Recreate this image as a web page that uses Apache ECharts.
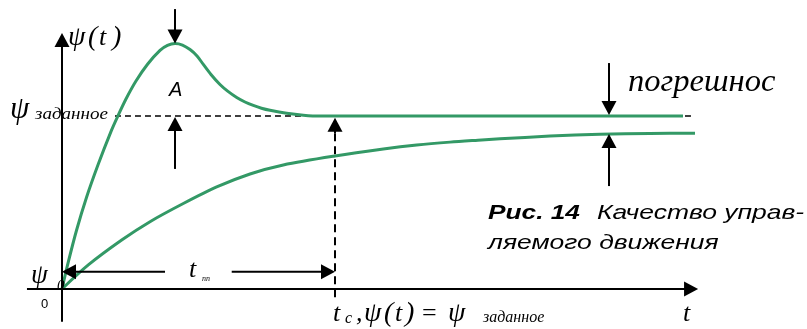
<!DOCTYPE html>
<html>
<head>
<meta charset="utf-8">
<script src="https://cdn.jsdelivr.net/npm/echarts@6/dist/echarts.min.js"></script>
<style>
  html, body { margin: 0; padding: 0; background: #ffffff; }
  #chart { width: 807px; height: 329px; }
</style>
</head>
<body>
<div id="chart"></div>
<script>
// Response ψ(t) of a controlled motion, normalised so that ψ_заданное = 1.
// Time t is in relative units; the settling time t_c = 3.

// Oscillatory response with overshoot A
const overshootT   = [0, 0.066, 0.159, 0.269, 0.396, 0.538, 0.615, 0.703, 0.813, 0.940, 1.077, 1.159, 1.242,
                      1.324, 1.407, 1.484, 1.553, 1.637, 1.736, 1.824, 1.920, 2.011, 2.102, 2.192, 2.286,
                      2.469, 2.652, 2.835, 3.011, 4.0, 5.0, 6.0, 6.824];
const overshootPsi = [0, 0.149, 0.338, 0.529, 0.718, 0.910, 1.001, 1.098, 1.202, 1.299, 1.379, 1.408, 1.419,
                      1.410, 1.384, 1.347, 1.298, 1.240, 1.182, 1.142, 1.107, 1.081, 1.061, 1.045, 1.033,
                      1.016, 1.005, 1.000, 1.0, 1.0, 1.0, 1.0, 1.0];

// Aperiodic response that stays below the target (static error)
const aperiodicT   = [0, 0.289, 0.656, 0.967, 1.333, 1.700, 2.066, 2.432, 3.0, 3.531, 3.898, 4.264,
                      4.571, 4.813, 5.363, 5.912, 6.462, 6.956];
const aperiodicPsi = [0, 0.139, 0.283, 0.389, 0.494, 0.590, 0.665, 0.717, 0.769, 0.809, 0.832, 0.849,
                      0.860, 0.868, 0.884, 0.894, 0.899, 0.901];

// Key levels
const targetPsi = 1.0;      // ψ_заданное
const settleT   = 3.0;      // t_c
const peakT     = 1.242;    // time of the overshoot peak
const peakPsi   = 1.419;    // overshoot peak value
const errorT    = 6.011;    // where the static error is marked

// Coordinate axes: [fromT, fromPsi, toT, toPsi], arrow head at "to"
const axisArrows = [
  [-0.385, 0, 6.99, 0],
  [0, -0.19, 0, 1.48]
];
// Dimension arrows: overshoot A, static error, settling time t_пп
const amplitudeArrows = [
  [peakT, 1.618, peakT, peakPsi],
  [peakT, 0.694, peakT, 0.994]
];
const errorArrows = [
  [errorT, 1.306, errorT, 1.006],
  [errorT, 0.595, errorT, 0.896]
];
const settleArrows = [
  [1.132, 0.100, 0, 0.100],
  [1.865, 0.100, settleT, 0.100],
  [settleT, 0.90, settleT, 0.990]
];

// Dashed guide lines
const targetLine = [[0.582, targetPsi], [6.92, targetPsi]];
const settleLine = [[settleT, 0.90], [settleT, -0.052]];

const GREEN = '#339966';
const SERIF = '"Liberation Serif", "Times New Roman", serif';
const SANS  = '"Liberation Sans", Arial, sans-serif';

function zip(xs, ys) { return xs.map((x, i) => [x, ys[i]]); }

function arrowItem(params, api) {
  const p1 = api.coord([api.value(0), api.value(1)]);
  const p2 = api.coord([api.value(2), api.value(3)]);
  const dx = p2[0] - p1[0], dy = p2[1] - p1[1];
  const len = Math.hypot(dx, dy) || 1;
  const ux = dx / len, uy = dy / len;
  const headLen = 14, halfW = 7.5;
  const bx = p2[0] - ux * headLen, by = p2[1] - uy * headLen;
  return {
    type: 'group',
    children: [
      { type: 'line', shape: { x1: p1[0], y1: p1[1], x2: bx + ux, y2: by + uy },
        style: { stroke: '#000', lineWidth: 2 } },
      { type: 'polygon',
        shape: { points: [[p2[0], p2[1]], [bx - uy * halfW, by + ux * halfW], [bx + uy * halfW, by - ux * halfW]] },
        style: { fill: '#000' } }
    ]
  };
}

function arrowSeries(data) {
  return {
    type: 'custom', renderItem: arrowItem, data: data, clip: false, silent: true,
    encode: { x: [0, 2], y: [1, 3] }, z: 5
  };
}

// Text label placed at (x, y), left edge / vertical middle
function label(text, x, y, size, family, opts) {
  opts = opts || {};
  return {
    type: 'text', x: x, y: y, silent: true, z: 10,
    scaleX: opts.scaleX || 1,
    style: {
      text: text, fill: '#000',
      fontFamily: family, fontSize: size,
      fontStyle: opts.upright ? 'normal' : 'italic',
      fontWeight: opts.bold ? 'bold' : 'normal',
      align: 'left', verticalAlign: 'middle'
    }
  };
}

// Loosely spaced formula: each glyph with its own left edge
function spaced(glyphs, xs, y, size) {
  return glyphs.map((g, i) => {
    const big = g === 'ψ' || g === '(' || g === ')';
    return label(g, xs[i], y, big ? size + 2 : size, SERIF, { upright: g === '=' });
  });
}

const chart = echarts.init(document.getElementById('chart'), null, { renderer: 'canvas' });

chart.setOption({
  animation: false,
  backgroundColor: '#ffffff',
  grid: { left: 25.6, right: 108, top: 32.96, bottom: 5.4 },
  xAxis: { type: 'value', min: -0.4, max: 7, show: false },
  yAxis: { type: 'value', min: -0.2, max: 1.48, show: false },
  series: [
    { type: 'line', data: targetLine, showSymbol: false, silent: true, z: 2,
      lineStyle: { color: '#000', width: 1.5, type: [6, 4] } },
    { type: 'line', data: settleLine, showSymbol: false, silent: true, z: 2,
      lineStyle: { color: '#000', width: 2, type: [8, 5] } },
    arrowSeries(axisArrows),
    { type: 'line', data: zip(overshootT, overshootPsi), smooth: 0.3,
      showSymbol: false, silent: true, z: 3, lineStyle: { color: GREEN, width: 3 } },
    { type: 'line', data: zip(aperiodicT, aperiodicPsi), smooth: 0.3,
      showSymbol: false, silent: true, z: 3, lineStyle: { color: GREEN, width: 3 } },
    arrowSeries(amplitudeArrows),
    arrowSeries(errorArrows),
    arrowSeries(settleArrows)
  ],
  graphic: [].concat(
    spaced(['ψ', '(', 't', ')'], [68, 88, 99, 112], 38, 26),
    [
      label('A', 169, 90, 20, SANS),
      label('ψ', 10, 110, 31, SERIF),
      label('заданное', 35, 115, 17, SERIF, { scaleX: 1.12 }),
      label('погрешнос', 628, 83, 31, SERIF, { scaleX: 1.05 }),
      label('ψ', 31, 276, 27, SERIF),
      label('0', 57, 286, 15, SERIF),
      label('0', 41, 304, 13, SANS, { upright: true }),
      label('t', 189, 270, 26, SERIF),
      label('пп', 202, 279, 8, SERIF),
      label('t', 333, 314, 26, SERIF),
      label('c', 345, 319, 16, SERIF),
      label('заданное', 483, 318, 16, SERIF),
      label('t', 683, 314, 26, SERIF),
      label('Рис. 14', 488, 213, 21, SANS, { bold: true, scaleX: 1.25 }),
      label('Качество управ-', 597, 213, 21, SANS, { scaleX: 1.26 }),
      label('ляемого движения', 488, 243, 21, SANS, { scaleX: 1.26 })
    ],
    spaced([',', 'ψ', '(', 't', ')', '=', 'ψ'], [356, 364, 384, 395, 405, 422, 448], 314, 26)
  )
});
</script>
</body>
</html>
